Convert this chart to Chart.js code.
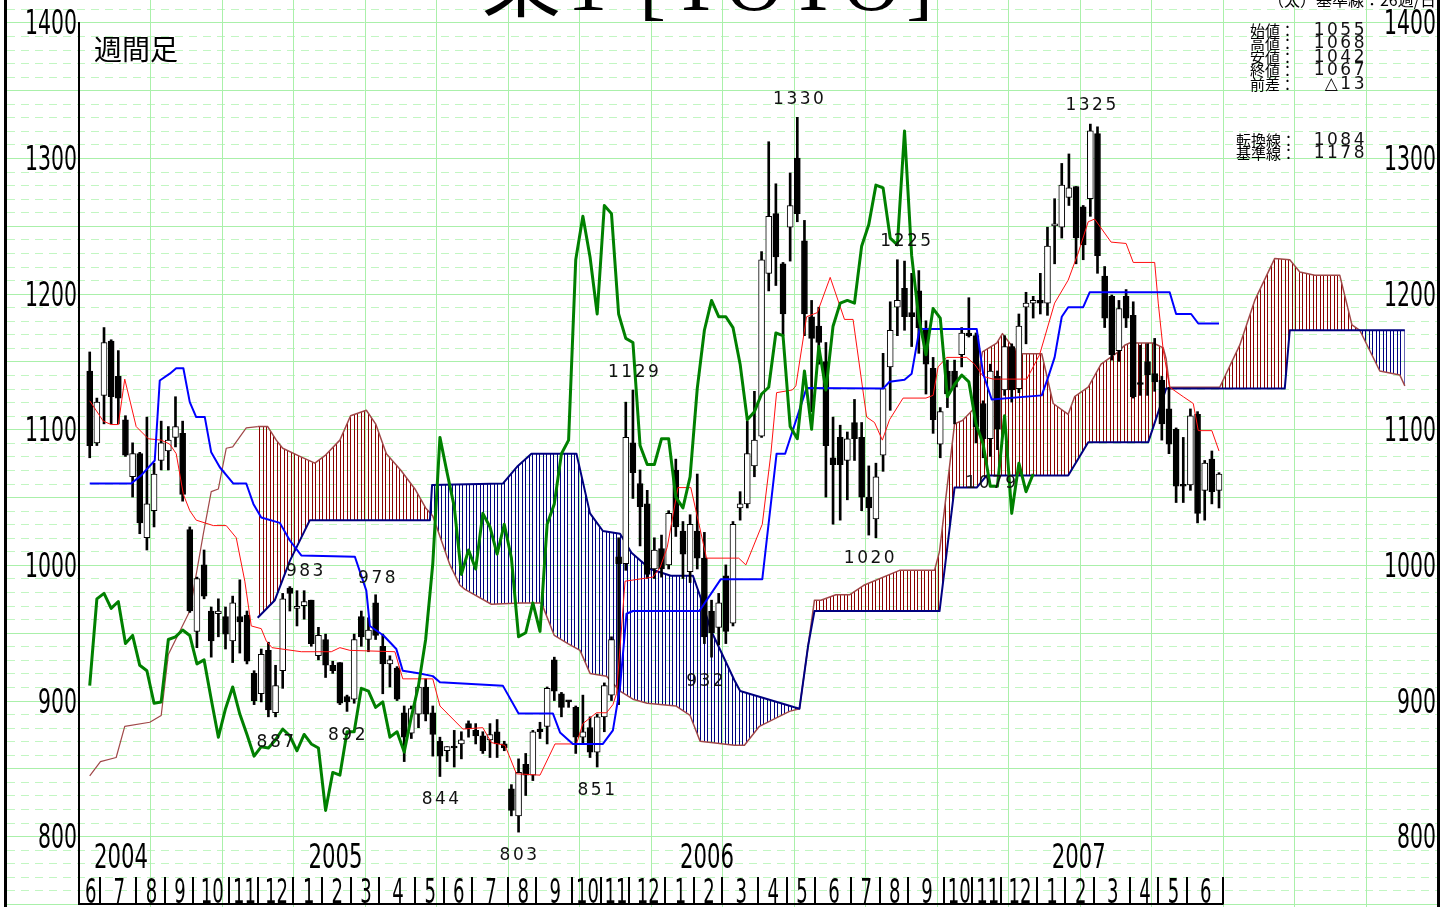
<!DOCTYPE html>
<html lang="ja">
<head>
<meta charset="utf-8">
<title>東1 [TOTO] 週間足</title>
<script src="https://cdn.jsdelivr.net/npm/chart.js@4.4.1/dist/chart.umd.min.js"></script>
<style>
  html, body { margin: 0; padding: 0; background: #fff; }
  #c { display: block; }
</style>
</head>
<body>
<canvas id="c" width="1450" height="907"></canvas>
<script>
'use strict';

/* ── WEEKLY CANDLES (week 0 = 2004-06-18) ── */
const open = [
  1143,1090,1125,1165,1139,1107,1065,1082,1020,1040,
  1077,1084,1094,1097,1026, 951,1000, 966, 964, 962,
   944, 962, 963, 920, 905, 937, 891, 922, 983, 968,
   970, 974, 933, 945, 926, 928, 903, 901, 962, 945,
   972, 940, 927, 924, 891, 876, 890, 910, 891, 870,
   863, 866, 868, 883, 878, 874, 871, 877, 868, 835,
   815, 853, 845, 879, 881, 930, 905, 900, 895, 873,
   880, 862, 888, 904,1006,1001,1090,1060,1045, 997,
  1012,1000,1070,1025, 995,1025,1005, 966, 954, 992,
   957,1042,1045,1073,1095,1215,1259,1222,1249,1300,
  1239,1183,1176,1150,1079,1094,1077,1105,1094,1050,
  1034,1081,1146,1190,1204,1186,1202,1174,1145,1089,
  1143,1143,1155,1171,1169,1119,1093,1139,1129,1161,
  1130,1190,1193,1195,1193,1250,1249,1271,1279,1264,
  1270,1318,1213,1198,1158,1198,1184,1134,1150,1141,
  1136,1115,1100,1059,1059,1111,1055,1078,1055,
];
const high = [
  1157,1123,1175,1166,1158,1110,1090,1083,1109,1075,
  1106,1102,1124,1106,1028, 991,1011, 969, 975, 969,
   977, 989, 966, 922, 938, 943, 926, 979, 984, 981,
   981, 974, 954, 949, 929, 928, 904, 949, 966, 961,
   978, 949, 933, 925, 896, 896, 911, 916, 896, 873,
   866, 878, 877, 885, 883, 877, 883, 886, 870, 838,
   857, 861, 878, 884, 910, 932, 906, 900, 896, 904,
   888, 890, 913, 947,1020,1120,1129,1070,1055,1020,
  1022,1040,1078,1032,1037,1067,1024, 974, 979,1000,
  1032,1054,1106,1128,1231,1312,1281,1223,1289,1330,
  1254,1195,1190,1164,1109,1103,1098,1122,1105,1073,
  1075,1156,1194,1225,1224,1215,1217,1180,1153,1116,
  1151,1151,1175,1197,1171,1121,1148,1143,1169,1163,
  1185,1201,1198,1215,1249,1270,1296,1303,1279,1265,
  1325,1323,1220,1199,1195,1203,1194,1162,1163,1167,
  1139,1131,1101,1094,1115,1113,1077,1084,1068,
];
const low = [
  1079,1088,1104,1104,1104,1080,1050,1023,1011,1028,
  1070,1070,1087,1047, 965, 939, 975, 932, 947, 938,
   928, 935, 927, 897, 899, 888, 888, 909, 966, 955,
   960, 940, 930, 917, 920, 897, 892, 898, 940, 936,
   945, 905, 910, 900, 855, 872, 880, 885, 859, 844,
   855, 851, 857, 873, 868, 861, 858, 858, 863, 815,
   803, 830, 841, 872, 868, 900, 888, 895, 861, 868,
   858, 851, 877, 900, 897, 996,1049,1014, 990, 990,
   991, 997,1021, 990, 987, 997, 942, 932, 941, 942,
   955,1033,1042,1065,1094,1202,1206,1169,1224,1253,
  1169,1113,1148,1050,1030,1033,1048,1077,1040,1022,
  1020,1069,1114,1169,1173,1161,1156,1126,1097,1079,
  1116,1104,1146,1168,1090,1079,1080,1085,1125,1120,
  1127,1163,1182,1185,1184,1222,1241,1265,1222,1225,
  1257,1215,1175,1151,1150,1175,1123,1125,1125,1128,
  1092,1082,1046,1046,1055,1031,1033,1045,1042,
];
const close = [
  1088,1120,1164,1124,1123,1081,1082,1031,1045,1067,
  1090,1092,1102,1052, 966, 990, 977, 944, 966, 949,
   972, 958, 929, 900, 934, 893, 911, 975, 979, 968,
   973, 942, 948, 926, 922, 898, 899, 945, 947, 952,
   948, 927, 930, 901, 873, 894, 910, 890, 875, 859,
   866, 865, 871, 879, 874, 863, 875, 868, 865, 819,
   847, 845, 877, 877, 909, 907, 895, 899, 873, 877,
   862, 888, 911, 945,1001,1094,1068,1043, 993,1011,
   997,1038,1028,1008,1030,1005, 947, 950, 972, 951,
  1030,1045,1082,1092,1225,1257,1227,1185,1265,1259,
  1185,1167,1164,1088,1074,1074,1093,1093,1050,1042,
  1065,1130,1173,1195,1183,1183,1175,1148,1107,1113,
  1126,1131,1171,1169,1102,1093,1143,1100,1161,1129,
  1176,1193,1195,1193,1235,1251,1280,1278,1241,1236,
  1320,1228,1182,1155,1189,1182,1124,1133,1140,1135,
  1104,1089,1058,1058,1110,1038,1075,1054,1067,
];

/* ── ICHIMOKU LINES as [week, value] ── */
const tenkanPts = [
  [0,1121],[1.9,1106],[3,1103.5],[4,1103.5],[4.9,1137],[6.5,1102],[8.2,1093],[10,1092],
  [11.2,1089],[12.1,1082],[13.1,1052],[14,1040],[14.9,1033],[17.3,1029],[19.1,1029],
  [20.5,1020],[21.7,988],[22.6,955],[24,953],[24.7,944],[25.5,939],[29.6,936],[33.8,936],
  [35,939],[36.4,937],[42.7,936],[43.8,916],[48,916],[49,896],[52.2,879],[55,880],
  [56.2,869],[58.1,867],[59.7,846],[63,845],[65.1,868],[68.1,868],[69,883],[70.9,891],
  [72.3,891],[73.2,897],[73.7,905],[74.2,939],[74.9,988],[78.8,991],[79.8,998],
  [80.8,1013],[82.3,1057],[84.1,1057],[86.3,1005],[90.8,1005],[91.8,1000],[94.1,1030],
  [95.3,1082],[96.1,1127],[98.3,1129],[98.8,1132],[100.3,1183],[101.8,1186],[103.6,1212],
  [105.6,1181],[106.8,1181],[108.7,1109],[109.8,1105],[110.9,1092],[111.9,1107],
  [113.8,1123],[117,1123],[118,1125],[118.7,1146],[119.9,1153],[122.7,1153],[123.8,1148],
  [125,1139],[126.4,1137],[131.1,1137],[132.9,1155],[135,1193],[136.9,1210],[138.3,1230],
  [139.7,1253],[140.6,1255],[142.9,1238],[145,1237],[146,1223],[149,1223],[149.5,1193],
  [150.2,1158],[151.1,1131],[153,1124],[154.4,1119],[155.1,1099],[157,1099],[158,1084],
];
const kijunPts = [
  [0,1060],[5.8,1060],[7.2,1066],[9.1,1077],[9.8,1136],[11.2,1141],[12.1,1145],[13.1,1145],
  [14,1120],[14.9,1109],[16.1,1109],[17,1083],[18.2,1072],[20.1,1060],[21.9,1060],
  [22.9,1045],[24,1035],[26.6,1031],[28,1018],[29.6,1007],[37.1,1006],[38.7,981],
  [39.2,955],[41.1,948],[42.9,938],[43.8,922],[46.2,920],[48,918],[49,913.5],[57.8,911],
  [60,890.5],[64.8,890.5],[65.8,876.5],[67.6,868],[71.8,868],[73.2,878],[74.2,910],
  [75.1,964],[76,966],[85.3,966],[88.3,989.5],[94.1,989.5],[96.1,1082],[97.3,1082],
  [100.3,1130.5],[111,1130],[111.9,1135],[114,1136.5],[115,1141],[116.1,1174],[124.1,1174],
  [125,1141],[126.2,1122],[133.2,1125],[134.1,1138.5],[135,1153],[136,1183],[136.9,1190],
  [139,1190],[139.9,1201],[151.1,1201],[152,1185],[154.1,1185],[155.1,1178],[158,1178],
];
/* chikou span: closes of weeks 26..158, drawn at weeks 0..132 */
const chikou = [
   911, 975, 979, 968, 973, 942, 948, 926, 922, 898,
   899, 945, 947, 952, 948, 927, 930, 901, 873, 894,
   910, 890, 875, 859, 866, 865, 871, 879, 874, 863,
   875, 868, 865, 819, 847, 845, 877, 877, 909, 907,
   895, 899, 873, 877, 862, 888, 911, 945,1001,1094,
  1068,1043, 993,1011, 997,1038,1028,1008,1030,1005,
   947, 950, 972, 951,1030,1045,1082,1092,1225,1257,
  1227,1185,1265,1259,1185,1167,1164,1088,1074,1074,
  1093,1093,1050,1042,1065,1130,1173,1195,1183,1183,
  1175,1148,1107,1113,1126,1131,1171,1169,1102,1093,
  1143,1100,1161,1129,1176,1193,1195,1193,1235,1251,
  1280,1278,1241,1236,1320,1228,1182,1155,1189,1182,
  1124,1133,1140,1135,1104,1089,1058,1058,1110,1038,
  1075,1054,1067,
];
const spanAPrePts = [
  [0,844.5],[1.5,855],[3.7,858],[4.9,881],[8.4,884],[10,889],[11,934],[14,966],
  [15.9,1023],[17,1054],[18,1056],[19.1,1086],[20,1087],[21.9,1101],[23.5,1102],
];
const spanAPts = [
  [23.5,1102],[24.9,1102],[26.1,1092],[27,1086],[29.4,1080],[31.5,1075],[33,1081],
  [35,1092],[36.5,1110],[38.7,1114],[40,1104],[41.5,1082],[43.5,1070],[45.5,1056],
  [47,1042],[48,1036],[50.4,1000],[51.8,985],[52.5,982],[56.2,971],[60.2,972],[63.2,972],
  [65,948],[66.9,942],[68.6,937],[70,920],[72.3,918],[74.2,907],[76,901],[78,898],
  [82,896],[84,889],[85.4,870],[90.2,867],[91.6,867],[93.7,881],[97.9,892],[99.3,894],
  [100.5,940],[101.4,974],[102.3,974],[104.4,978],[106.3,978],[108.3,985],[113.3,996],
  [118.2,996],[118.9,1010],[121,1104],[122.1,1106.5],[123.5,1114],[124.9,1157],
  [126.9,1163.6],[127.7,1170.5],[128.7,1163.6],[130.1,1155.7],[133.2,1155.7],[134.8,1119],
  [136.9,1111],[137.8,1124],[139.7,1131],[141.5,1148],[143.9,1157],[144.8,1162],
  [145.5,1163.6],[148.8,1163.6],[150.2,1160],[150.6,1152],[151.1,1131],[158.1,1131],
  [160.9,1162],[163,1195],[165.8,1226],[167.9,1225],[169.3,1216],[171.4,1213.5],
  [174.9,1213.5],[176.6,1177],[177.7,1173],[180.5,1143],[183.3,1140],[184,1132],
];
const spanBPts = [
  [23.5,961],[25.9,974],[28,1003],[30.8,1033],[47.6,1033],[47.9,1059],[57.8,1060],
  [59.9,1073],[61.8,1082],[68.1,1082],[70,1038],[71.8,1025],[74.2,1023],[75.8,1009],
  [78.4,997],[81.3,992],[84.4,992],[85.6,974],[86.9,952],[90.2,915],[91,907],[98.6,895],
  [99.3,894],[100.5,940],[101.4,966],[118.9,966],[121,1057],[124.1,1057],[125.5,1066],
  [136.9,1066],[139.7,1090.5],[148.1,1090.5],[150.6,1130],[167.2,1130],[167.9,1173],
  [184,1173],
];

/* ── AXIS LABELS ── */
const yTicks      = [800, 900, 1000, 1100, 1200, 1300, 1400];
const monthLabels = ['6','7','8','9','10','11','12','1','2','3','4','5','6','7','8','9','10','11','12',
                     '1','2','3','4','5','6','7','8','9','10','11','12','1','2','3','4','5','6'];
const monthStarts = [-1,2,7,11,15,20,24,29,33,37,41,46,50,54,59,63,68,72,76,
                     81,85,89,94,98,102,107,111,115,120,124,128,133,137,141,146,150,154];
const lastWeekEnd = 159;
const yearLabels  = ['2004', '2005', '2006', '2007'];
const yearStarts  = [-1, 29, 81, 133];

/* ── PEAK / TROUGH NOTES ── */
const noteText  = ['1330','1325','1225','1129','983','978','1020','932','887','892','844','851','803','1079'];
const noteWeek  = [99.2, 140.1, 114.2, 76.1, 30.1, 40.2, 109.1, 86.1, 26, 36, 49.1, 70.9, 60, 126.1];
const noteValue = [1339.8, 1335.3, 1235, 1138.3, 992.1, 987, 1001.5, 911, 866, 871.1, 823.9, 830.5, 782.6, 1057];

/* ── INFO BLOCK ── */
const infoLabels = ['始値：', '高値：', '安値：', '終値：', '前差：'];
const infoValues = ['1055', '1068', '1042', '1067', '△13'];
const lineLabels = ['転換線：', '基準線：'];
const lineValues = ['1084', '1178'];

/* ── HELPERS ── */
const xy = pts => pts.map(([x, y]) => ({ x, y }));

function hatch(color) {
  const tile = document.createElement('canvas');
  tile.width = 7;
  tile.height = 8;
  const g = tile.getContext('2d');
  g.fillStyle = color;
  g.fillRect(0, 0, 1, 8);
  g.fillRect(4, 0, 1, 8);
  return g.createPattern(tile, 'repeat');
}

/* squeeze text horizontally to a given width (the chart uses narrow digits) */
function fitText(ctx, text, x, y, align, width) {
  const w = ctx.measureText(text).width;
  ctx.save();
  ctx.translate(x, y);
  ctx.scale(width / w, 1);
  ctx.textAlign = align;
  ctx.fillText(text, 0, 0);
  ctx.restore();
}

const NARROW = '"Liberation Sans Narrow", "DejaVu Sans Condensed", "Liberation Sans", sans-serif';
const CJK    = '"Noto Sans CJK JP", "Noto Sans", sans-serif';
const NOTE   = '17px "DejaVu Sans", sans-serif';

/* ── BACKGROUND GRID + FRAME + TEXT ── */
const paperPlugin = {
  id: 'paper',
  beforeDraw(chart) {
    const { ctx, scales: { x, y } } = chart;
    ctx.save();
    ctx.fillStyle = '#fff';
    ctx.fillRect(0, 0, chart.width, chart.height);
    ctx.lineWidth = 1;
    for (let v = 750; v <= 1410; v += 10) {
      const py = Math.round(y.getPixelForValue(v)) + 0.5;
      const major = v % 50 === 0;
      ctx.strokeStyle = major ? '#aaf0aa' : '#c2f6c2';
      ctx.setLineDash(major ? [] : [8, 6]);
      ctx.beginPath();
      ctx.moveTo(7, py);
      ctx.lineTo(1437, py);
      ctx.stroke();
    }
    ctx.setLineDash([]);
    ctx.strokeStyle = '#aaf0aa';
    for (let w = 8.5; w < 188; w += 10) {
      const px = Math.round(x.getPixelForValue(w)) + 0.5;
      ctx.beginPath();
      ctx.moveTo(px, 0);
      ctx.lineTo(px, chart.height);
      ctx.stroke();
    }
    ctx.restore();
  },

  afterDraw(chart) {
    const { ctx, scales: { x, y } } = chart;
    const bottom = chart.chartArea.bottom;
    ctx.save();

    /* frame */
    ctx.fillStyle = '#000';
    ctx.fillRect(4, 0, 3, chart.height);
    ctx.fillRect(1437, 0, 3, chart.height);
    ctx.fillRect(78, 22, 2, bottom - 22 + 1);
    const endPx = x.getPixelForValue(lastWeekEnd - 0.5);
    ctx.fillRect(78, bottom - 1, endPx - 78 + 1, 2);

    /* price labels, both sides */
    ctx.font = '33px ' + NARROW;
    ctx.textBaseline = 'alphabetic';
    yTicks.forEach(v => {
      const py = y.getPixelForValue(v) + 12;
      const t = String(v);
      fitText(ctx, t, 77, py, 'right', 13 * t.length);
      fitText(ctx, t, 1436, py, 'right', 13 * t.length);
    });

    /* month strip */
    const bounds = monthStarts.concat([lastWeekEnd]).map(w => x.getPixelForValue(w - 0.5));
    bounds.forEach((px, k) => {
      if (k > 0) ctx.fillRect(Math.round(px) - 1, bottom - 27, 2, 27);
    });
    ctx.font = '34px ' + NARROW;
    monthLabels.forEach((t, k) => {
      const cx = (bounds[k] + bounds[k + 1]) / 2 + 1;
      fitText(ctx, t, cx, bottom - 1, 'center', 11.5 * t.length);
    });
    ctx.font = '33px ' + NARROW;
    yearLabels.forEach((t, k) => {
      const px = x.getPixelForValue(yearStarts[k] - 0.5) + 15;
      fitText(ctx, t, px, bottom - 36, 'left', 13.5 * t.length);
    });

    /* peak / trough notes */
    ctx.font = NOTE;
    ctx.letterSpacing = '2.5px';
    ctx.fillStyle = '#111';
    ctx.textAlign = 'center';
    noteText.forEach((t, k) => {
      ctx.fillText(t, x.getPixelForValue(noteWeek[k]) + 1, y.getPixelForValue(noteValue[k]));
    });

    /* info block, top right */
    ctx.textAlign = 'right';
    infoValues.forEach((t, k) => ctx.fillText(t, 1367, 35 + k * 13.4));
    lineValues.forEach((t, k) => ctx.fillText(t, 1367, 145 + k * 13.4));
    ctx.letterSpacing = '0px';
    ctx.fillStyle = '#000';
    ctx.textAlign = 'left';
    ctx.font = '15px ' + CJK;
    infoLabels.forEach((t, k) => ctx.fillText(t, 1250, 36 + k * 13.4));
    lineLabels.forEach((t, k) => ctx.fillText(t, 1236, 146 + k * 13.4));
    ctx.font = '16px ' + CJK;
    ctx.textAlign = 'right';
    ctx.fillText('（太）基準線：26週/日', 1436, 6);

    /* titles */
    ctx.textAlign = 'left';
    ctx.font = '28px ' + CJK;
    ctx.fillText('週間足', 94, 60);
    ctx.textAlign = 'center';
    ctx.font = '80px "Liberation Serif", ' + CJK;
    ctx.letterSpacing = '6px';
    ctx.fillText('東1 [TOTO]', 710, 10);
    ctx.restore();
  },
};

/* ── CHART ── */
const line = (label, pts, color, width, order, extra) => Object.assign({
  type: 'line',
  label,
  data: pts,
  borderColor: color,
  borderWidth: width,
  pointRadius: 0,
  tension: 0,
  fill: false,
  borderJoinStyle: 'round',
  order,
}, extra || {});

const datasets = [
  line('遅行線', chikou.map((v, i) => ({ x: i, y: v })), '#008000', 3, 1),
  line('基準線', xy(kijunPts), '#0000ff', 2, 2),
  line('転換線', xy(tenkanPts), '#ff1010', 1, 3),
  {
    type: 'bar',
    label: '実体',
    data: open.map((o, i) => ({ x: i, y: [o, close[i]] })),
    backgroundColor: open.map((o, i) => (close[i] < o ? '#000' : '#fff')),
    borderColor: '#000',
    borderWidth: 1,
    borderSkipped: false,
    barThickness: 6,
    minBarLength: 2,
    grouped: false,
    order: 4,
  },
  {
    type: 'bar',
    label: 'ヒゲ',
    data: low.map((l, i) => ({ x: i, y: [l, high[i]] })),
    backgroundColor: '#000',
    barThickness: 2,
    grouped: false,
    order: 5,
  },
  line('先行スパン1', xy(spanAPts), '#a04848', 1.5, 7, {
    fill: { target: '+1', above: hatch('#8b0000'), below: hatch('#000080') },
  }),
  line('先行スパン2', xy(spanBPts), '#000080', 2, 6),
  line('先行スパン1', xy(spanAPrePts), '#a04848', 1.2, 8),
];

new Chart(document.getElementById('c'), {
  type: 'line',
  data: { datasets },
  options: {
    responsive: false,
    animation: false,
    events: [],
    layout: { padding: { left: 79, right: 13, top: 0, bottom: 3 } },
    plugins: {
      legend: { display: false },
      tooltip: { enabled: false },
      filler: { propagate: false },
    },
    scales: {
      x: { type: 'linear', min: -1.5, max: 188.5, offset: false, display: false },
      y: { type: 'linear', min: 750, max: 1416.5, display: false },
    },
  },
  plugins: [paperPlugin],
});
</script>
</body>
</html>
